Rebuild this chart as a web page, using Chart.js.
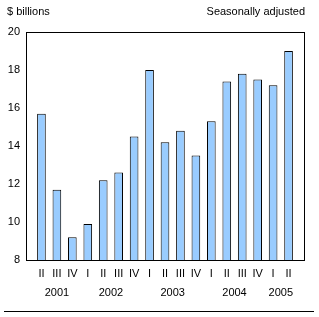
<!DOCTYPE html>
<html>
<head>
<meta charset="utf-8">
<script src="https://cdn.jsdelivr.net/npm/chart.js@4/dist/chart.umd.min.js"></script>
<style>
  html, body { margin: 0; padding: 0; background: #fff; }
  #wrap { width: 319px; height: 317px; position: relative; }
</style>
</head>
<body>
<div id="wrap"><canvas id="myChart"></canvas></div>
<script>
// Chart values
const quarters = ['II', 'III', 'IV', 'I', 'II', 'III', 'IV', 'I', 'II', 'III', 'IV', 'I', 'II', 'III', 'IV', 'I', 'II'];
const years = ['2001', '2001', '2001', '2002', '2002', '2002', '2002', '2003', '2003', '2003', '2003', '2004', '2004', '2004', '2004', '2005', '2005'];
const values = [15.7, 11.7, 9.2, 9.9, 12.2, 12.6, 14.5, 18.0, 14.2, 14.8, 13.5, 15.3, 17.4, 17.8, 17.5, 17.2, 19.0];
const yMin = 8;
const yMax = 20;
const yStep = 2;
const unitLabel = '$ billions';
const noteLabel = 'Seasonally adjusted';

const FONT = '"Liberation Sans", Arial, sans-serif';

// one empty slot on each side so the bars sit a full step in from the frame
const labels = [''].concat(quarters, ['']);
const data = [null].concat(values, [null]);

const ctx = document.getElementById('myChart').getContext('2d');

// frame, header texts, year labels and the rule at the bottom
const extras = {
    id: 'extras',
    afterDraw(chart) {
        const c = chart.ctx;
        const a = chart.chartArea;
        const x = chart.scales.x;
        c.save();
        c.strokeStyle = '#000';
        c.lineWidth = 1;
        c.strokeRect(Math.round(a.left) + 0.5, Math.round(a.top) + 0.5,
            Math.round(a.right - a.left), Math.round(a.bottom - a.top));

        c.fillStyle = '#000';
        c.font = '11px ' + FONT;
        c.textBaseline = 'middle';
        c.textAlign = 'left';
        c.fillText(unitLabel, 7, 12);
        c.textAlign = 'right';
        c.fillText(noteLabel, 305, 12);

        // years centred under their quarters
        c.textAlign = 'center';
        let start = 0;
        for (let i = 1; i <= years.length; i++) {
            if (i === years.length || years[i] !== years[start]) {
                const mid = (start + i - 1) / 2 + 1;
                c.fillText(years[start], x.getPixelForValue(mid), 293);
                start = i;
            }
        }

        c.beginPath();
        c.moveTo(4, 311.5);
        c.lineTo(314, 311.5);
        c.stroke();
        c.restore();
    }
};

const chart = new Chart(ctx, {
    type: 'bar',
    data: {
        labels: labels,
        datasets: [{
            data: data,
            backgroundColor: '#99ccff',
            borderColor: '#000',
            borderWidth: 1,
            categoryPercentage: 1,
            barPercentage: 0.56
        }]
    },
    options: {
        responsive: true,
        maintainAspectRatio: false,
        animation: false,
        layout: { padding: { left: 0, top: 32, right: 15, bottom: 0 } },
        plugins: {
            legend: { display: false },
            tooltip: { enabled: false }
        },
        scales: {
            x: {
                offset: false,
                grid: { display: false, drawTicks: false },
                border: { display: false },
                ticks: {
                    color: '#000',
                    font: { family: FONT, size: 11 },
                    padding: 7,
                    maxRotation: 0,
                    autoSkip: false
                },
                afterFit: function (scale) { scale.height = 57; }
            },
            y: {
                min: yMin,
                max: yMax,
                grid: { display: false, drawTicks: false },
                border: { display: false },
                ticks: {
                    stepSize: yStep,
                    color: '#000',
                    font: { family: FONT, size: 11 },
                    padding: 6
                },
                afterFit: function (scale) { scale.width = 26; }
            }
        }
    },
    plugins: [extras]
});
</script>
</body>
</html>
